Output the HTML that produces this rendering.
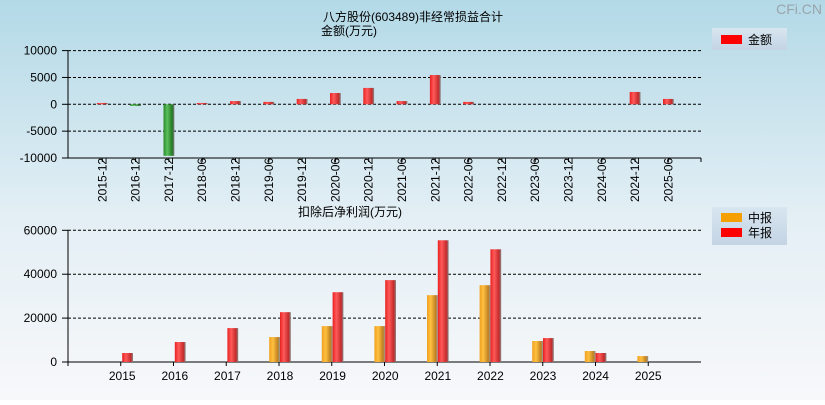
<!DOCTYPE html>
<html><head><meta charset="utf-8"><style>
html,body{margin:0;padding:0}
body{width:825px;height:400px;overflow:hidden;font-family:"Liberation Sans","Noto Sans CJK SC",sans-serif}
svg text{font-family:"Liberation Sans","Noto Sans CJK SC",sans-serif;font-size:12px;fill:#000}
</style></head><body>
<svg id="c" width="825" height="400">
<defs>
<linearGradient id="bg" x1="0" y1="0" x2="0" y2="1"><stop offset="0" stop-color="#b3d9e7"/><stop offset="0.55" stop-color="#e4eff5"/><stop offset="1" stop-color="#f7f8fa"/></linearGradient>
<linearGradient id="red" x1="0" x2="1"><stop offset="0" stop-color="#e82020"/><stop offset="0.35" stop-color="#ff5a5a"/><stop offset="0.8" stop-color="#c42a2a"/><stop offset="1" stop-color="#888"/></linearGradient>
<linearGradient id="grn" x1="0" x2="1"><stop offset="0" stop-color="#2a8a2a"/><stop offset="0.35" stop-color="#5cc05c"/><stop offset="0.8" stop-color="#237a23"/><stop offset="1" stop-color="#777"/></linearGradient>
<linearGradient id="org" x1="0" x2="1"><stop offset="0" stop-color="#f0a020"/><stop offset="0.35" stop-color="#ffc040"/><stop offset="0.8" stop-color="#c08020"/><stop offset="1" stop-color="#999"/></linearGradient>
<linearGradient id="lg" x1="0" y1="0" x2="0" y2="1"><stop offset="0" stop-color="#d8e6f0"/><stop offset="1" stop-color="#c4d4e4"/></linearGradient>
</defs>
<rect width="825" height="400" fill="url(#bg)"/>
<text x="822" y="14" text-anchor="end" style="font-size:14px;fill:#9aa4ac">CFi.CN</text>
<text x="413" y="21" text-anchor="middle">八方股份(603489)非经常损益合计</text>
<text x="349" y="35" text-anchor="middle">金额(万元)</text>
<text x="350" y="216" text-anchor="middle">扣除后净利润(万元)</text>
<g><rect x="712" y="28" width="75" height="22" fill="url(#lg)"/><rect x="721" y="35" width="21" height="9" fill="#f00"/><text x="748" y="44">金额</text></g>
<g><rect x="712" y="207" width="75" height="38" fill="url(#lg)"/><rect x="721" y="213" width="21" height="9" fill="#f5a000"/><text x="748" y="222">中报</text><rect x="721" y="228" width="21" height="9" fill="#f00"/><text x="748" y="237">年报</text></g>
<g id="top"></g><g id="bot"></g>
</svg>
<script>
const topCats=["2015-12","2016-12","2017-12","2018-06","2018-12","2019-06","2019-12","2020-06","2020-12","2021-06","2021-12","2022-06","2022-12","2023-06","2023-12","2024-06","2024-12","2025-06"];
const topVals=[250,-300,-9600,250,600,450,1000,2100,3050,600,5450,450,0,0,0,0,2300,1000];
const topTicks=[10000,5000,0,-5000,-10000];
const years=["2015","2016","2017","2018","2019","2020","2021","2022","2023","2024","2025"];
const midVals=[0,0,0,11360,16360,16360,30450,35000,9550,5000,2700];
const annVals=[4100,9100,15450,22700,31800,37300,55450,51350,10900,4100,0];
const botTicks=[60000,40000,20000,0];
const NS="http://www.w3.org/2000/svg";
function mk(p,t,a){const e=document.createElementNS(NS,t);for(const k in a)e.setAttribute(k,a[k]);p.appendChild(e);return e;}
const L=68,R=701;
// top
const T=document.getElementById('top');
const ty=v=>104.3-v*(53.7/10000);
const tx=i=>102.3+i*33.3;
topTicks.forEach(v=>{
 const y=ty(v);
 const g=mk(T,'line',{x1:L,x2:R,y1:y,y2:y,stroke:'#000','stroke-dasharray':'3,2'});
 
 
 mk(T,'line',{x1:L-6,x2:L,y1:y,y2:y,stroke:'#000'});
 const t=mk(T,'text',{x:L-11,y:y+4,'text-anchor':'end'});t.textContent=v;
 
 
});
mk(T,'line',{x1:L,x2:L,y1:ty(10000),y2:ty(-10000),stroke:'#000'});
mk(T,'line',{x1:L,x2:R,y1:ty(-10000),y2:ty(-10000),stroke:'#000'});
topCats.forEach((c,i)=>{
 const x=tx(i),v=topVals[i];
 mk(T,'line',{x1:x,x2:x,y1:ty(-10000),y2:ty(-10000)+4,stroke:'#000'});
 const t=mk(T,'text',{x:0,y:0,transform:`translate(${x+4},${ty(-10000)+44}) rotate(-90)`,'text-anchor':'start'});t.textContent=c;
 
 
 if(v!==0){const y1=ty(Math.max(v,0)),y2=ty(Math.min(v,0));
 const b=mk(T,'rect',{x:x-5.4,y:y1,width:10.8,height:Math.max(y2-y1,1),fill:v>0?'url(#red)':'url(#grn)'});
 
 }
});
mk(T,'line',{x1:R,x2:R,y1:ty(-10000),y2:ty(-10000)+4,stroke:'#000'});
// bottom
const B=document.getElementById('bot');
const by=v=>362-v*(131.7/60000);
const bx=i=>122.2+i*52.6;
botTicks.forEach(v=>{
 const y=by(v);
 if(v!==0){const g=mk(B,'line',{x1:L,x2:R,y1:y,y2:y,stroke:'#000','stroke-dasharray':'3,2'});
 
 }
 mk(B,'line',{x1:L-6,x2:L,y1:y,y2:y,stroke:'#000'});
 const t=mk(B,'text',{x:L-11,y:y+4,'text-anchor':'end'});t.textContent=v;
 
 
});
mk(B,'line',{x1:L,x2:L,y1:by(60000),y2:by(0),stroke:'#000'});
mk(B,'line',{x1:L,x2:R,y1:by(0),y2:by(0),stroke:'#000'});
for(let i=0;i<12;i++){const x=L+i*52.75;mk(B,'line',{x1:x,x2:x,y1:by(0),y2:by(0)+4,stroke:'#000'});}
years.forEach((yr,i)=>{
 const x=bx(i);
 const t=mk(B,'text',{x:x,y:by(0)+18,'text-anchor':'middle'});t.textContent=yr;
 
 
 if(midVals[i]>0){const b=mk(B,'rect',{x:x-10.8,y:by(midVals[i]),width:10.8,height:by(0)-by(midVals[i]),fill:'url(#org)'});
 
 }
 if(annVals[i]>0){const b=mk(B,'rect',{x:x,y:by(annVals[i]),width:10.8,height:by(0)-by(annVals[i]),fill:'url(#red)'});
 
 }
});
</script>
</body></html>
